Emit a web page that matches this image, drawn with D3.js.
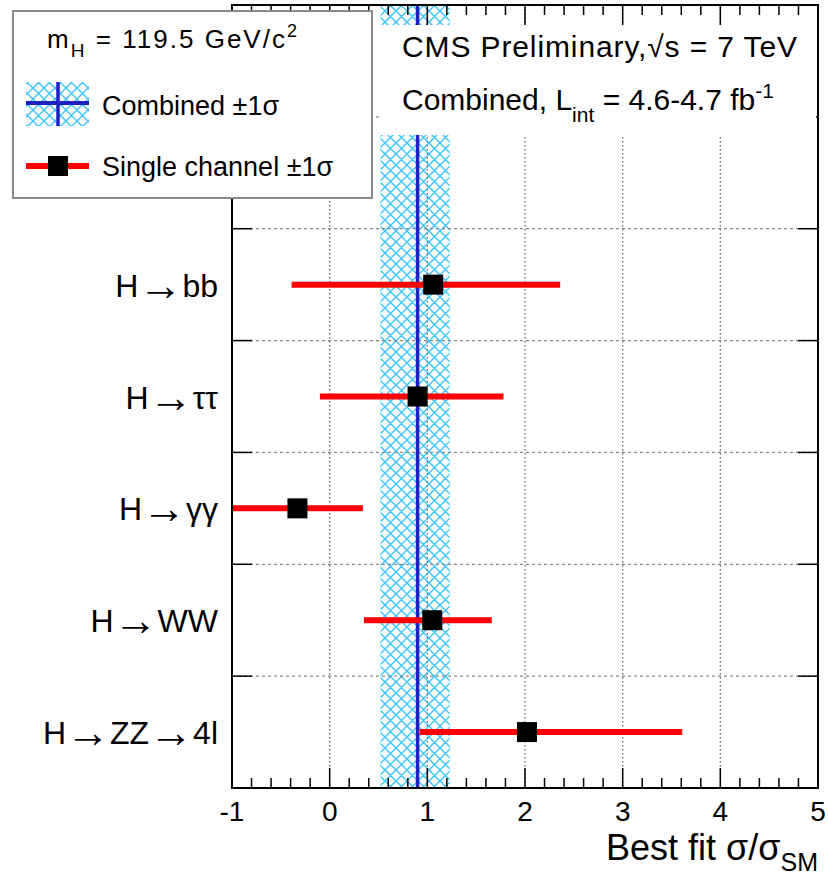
<!DOCTYPE html>
<html><head><meta charset="utf-8">
<script src="https://cdn.jsdelivr.net/npm/d3@7"></script>
<style>
html,body{margin:0;padding:0;background:#fff;}
text{font-family:"Liberation Sans",Arial,Helvetica,sans-serif;fill:#000;}
</style></head>
<body>
<svg id="c" width="828" height="883"></svg>
<script>
// ---- data ----
const channels = ["H \u2192 ZZ \u2192 4l", "H \u2192 WW", "H \u2192 \u03b3\u03b3", "H \u2192 \u03c4\u03c4", "H \u2192 bb"];
const bestFit  = [2.02, 1.05, -0.33, 0.90, 1.06];
const errLow   = [0.92, 0.35, -1.20, -0.10, -0.39];
const errHigh  = [3.61, 1.66, 0.34, 1.78, 2.36];
const combinedBest = 0.90;
const combinedLow  = 0.52;
const combinedHigh = 1.23;
const xTicks = [-1, 0, 1, 2, 3, 4, 5];
const yGrid = [1, 2, 3, 4, 5, 6];

const svg = d3.select("#c");
const x = d3.scaleLinear().domain([-1, 5]).range([232, 818]);
const y = d3.scaleLinear().domain([0, 7]).range([788, 5]);

const defs = svg.append("defs");
const pat = defs.append("pattern").attr("id","hatch").attr("patternUnits","userSpaceOnUse")
  .attr("width",11).attr("height",11);
pat.append("path").attr("d","M0,0L11,11M11,0L0,11M-1,10L1,12M10,-1L12,1M-1,1L1,-1M10,12L12,10")
  .attr("stroke","#3ec4ff").attr("stroke-width",1.4).attr("fill","none");
defs.append("clipPath").attr("id","plotclip").append("rect")
  .attr("x",x(-1)).attr("y",y(7)).attr("width",x(5)-x(-1)).attr("height",y(0)-y(7));

const plot = svg.append("g").attr("clip-path","url(#plotclip)");

// combined band
plot.append("rect").attr("x",x(combinedLow)).attr("y",y(7))
  .attr("width",x(combinedHigh)-x(combinedLow)).attr("height",y(0)-y(7))
  .attr("fill","url(#hatch)");

// grid
plot.selectAll(".vg").data(xTicks.filter(d=>d>-1 && d<5)).enter().append("line")
  .attr("x1",d=>x(d)).attr("x2",d=>x(d)).attr("y1",y(7)).attr("y2",y(0))
  .attr("stroke","#666").attr("stroke-width",1.3).attr("stroke-dasharray","1.5,2.5");
plot.selectAll(".hg").data(yGrid).enter().append("line")
  .attr("x1",x(-1)).attr("x2",x(5)).attr("y1",d=>y(d)).attr("y2",d=>y(d))
  .attr("stroke","#888").attr("stroke-width",1.3).attr("stroke-dasharray","3,3");

// combined line
plot.append("line").attr("x1",x(combinedBest)).attr("x2",x(combinedBest))
  .attr("y1",y(7)).attr("y2",y(0)).attr("stroke","#1f1fc4").attr("stroke-width",3.5);

// channel error bars and points
const rows = channels.map((c,i)=>({c, v:bestFit[i], lo:errLow[i], hi:errHigh[i], pos:i+0.5}));
plot.selectAll(".eb").data(rows).enter().append("line")
  .attr("x1",d=>x(d.lo)).attr("x2",d=>x(d.hi)).attr("y1",d=>y(d.pos)).attr("y2",d=>y(d.pos))
  .attr("stroke","#ff0000").attr("stroke-width",6);
plot.selectAll(".pt").data(rows).enter().append("rect")
  .attr("x",d=>x(d.v)-10).attr("y",d=>y(d.pos)-10).attr("width",20).attr("height",20)
  .attr("fill","#000");

// ticks
const axes = svg.append("g").attr("stroke","#000").attr("stroke-width",1.5);
const minor = d3.range(-1, 5.0001, 0.2).map(v=>+v.toFixed(2));
minor.forEach(v=>{
  const isMajor = Math.abs(v-Math.round(v))<1e-6;
  const len = isMajor?20:10;
  axes.append("line").attr("x1",x(v)).attr("x2",x(v)).attr("y1",y(0)).attr("y2",y(0)-len);
  axes.append("line").attr("x1",x(v)).attr("x2",x(v)).attr("y1",y(7)).attr("y2",y(7)+len);
});
yGrid.forEach(v=>{
  axes.append("line").attr("x1",x(-1)).attr("x2",x(-1)+20).attr("y1",y(v)).attr("y2",y(v));
  axes.append("line").attr("x1",x(5)).attr("x2",x(5)-20).attr("y1",y(v)).attr("y2",y(v));
});

// tick labels
svg.selectAll(".xl").data(xTicks).enter().append("text")
  .attr("x",d=>x(d)).attr("y",821).attr("text-anchor","middle")
  .attr("font-size",28).text(d=>d);

// category labels (thin, longer arrow; the arrow glyph carries its own spacing)
svg.selectAll(".yl").data(rows).enter().append("text")
  .attr("x",218).attr("y",d=>y(d.pos)+12).attr("text-anchor","end")
  .attr("font-size",32)
  .each(function(d){
    const t = d3.select(this);
    d.c.split("\u2192").forEach((part,k)=>{
      if(k>0) t.append("tspan").attr("font-size",44).attr("dy",3).text("\u2192");
      t.append("tspan").attr("dy",k>0?-3:0).text(part.trim());
    });
  });

// axis title
const at = svg.append("text").attr("x",818).attr("y",860).attr("text-anchor","end").attr("font-size",36);
at.append("tspan").text("Best fit \u03c3/\u03c3");
at.append("tspan").attr("font-size",25).attr("dy",11).text("SM");

// text box (top right)
svg.append("rect").attr("x",379).attr("y",25).attr("width",437).attr("height",110).attr("fill","#fff");
svg.append("text").attr("x",402).attr("y",57).attr("font-size",30).attr("textLength",395)
  .text("CMS Preliminary,\u221as = 7 TeV");
const t2 = svg.append("text").attr("x",402).attr("y",110).attr("font-size",30);
t2.append("tspan").text("Combined, L");
t2.append("tspan").attr("font-size",21).attr("dy",12).text("int");
t2.append("tspan").attr("dy",-12).text(" = 4.6-4.7 fb");
t2.append("tspan").attr("font-size",21).attr("dy",-12).text("-1");

// frame
svg.append("rect").attr("x",x(-1)).attr("y",y(7)).attr("width",x(5)-x(-1)).attr("height",y(0)-y(7))
  .attr("fill","none").attr("stroke","#000").attr("stroke-width",2);

// legend
const lg = svg.append("g");
lg.append("rect").attr("x",13).attr("y",11).attr("width",359).attr("height",187)
  .attr("fill","#fff").attr("stroke","#8a8a8a").attr("stroke-width",2);
const h = lg.append("text").attr("x",47).attr("y",48).attr("font-size",26).attr("textLength",250);
h.append("tspan").text("m");
h.append("tspan").attr("font-size",19).attr("dy",9).text("H");
h.append("tspan").attr("dy",-9).text(" = 119.5 GeV/c");
h.append("tspan").attr("font-size",18).attr("dy",-11).text("2");
lg.append("rect").attr("x",26).attr("y",82).attr("width",63).attr("height",44).attr("fill","url(#hatch)");
lg.append("line").attr("x1",26).attr("x2",89).attr("y1",103).attr("y2",103).attr("stroke","#1f1fc4").attr("stroke-width",4);
lg.append("line").attr("x1",58).attr("x2",58).attr("y1",82).attr("y2",126).attr("stroke","#1f1fc4").attr("stroke-width",3.5);
lg.append("text").attr("x",102).attr("y",115).attr("font-size",27).text("Combined \u00b11\u03c3");
lg.append("line").attr("x1",26).attr("x2",89).attr("y1",166).attr("y2",166).attr("stroke","#ff0000").attr("stroke-width",6);
lg.append("rect").attr("x",48).attr("y",156).attr("width",20).attr("height",20).attr("fill","#000");
lg.append("text").attr("x",102).attr("y",176).attr("font-size",27).text("Single channel \u00b11\u03c3");
</script>
</body></html>
